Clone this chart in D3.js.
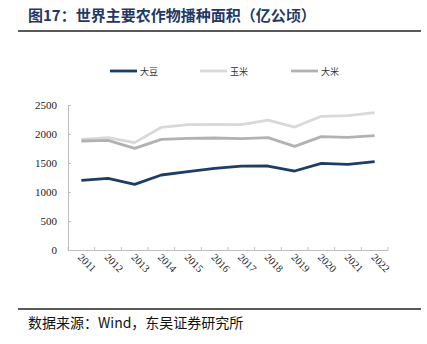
<!DOCTYPE html>
<html><head><meta charset="utf-8">
<script src="https://cdn.jsdelivr.net/npm/d3@7"></script>
<style>body{margin:0;background:#fff}svg{display:block}</style>
</head><body>
<script>
const years = ["2011","2012","2013","2014","2015","2016","2017","2018","2019","2020","2021","2022"];
const soybean = [1200,1236,1132,1293,1350,1408,1445,1448,1362,1494,1477,1523];
const corn    = [1908,1937,1851,2115,2160,2167,2160,2241,2120,2305,2316,2368];
const rice    = [1879,1890,1753,1908,1925,1931,1920,1937,1787,1954,1943,1971];
const yTicks  = [0,500,1000,1500,2000,2500];
const seriesNames = ["大豆","玉米","大米"];
const seriesColors = ["#1d3d66","#d9d9d9","#b2b2b2"];
const title = "图17：世界主要农作物播种面积（亿公顷）";
const source = "数据来源：Wind，东吴证券研究所";

const W=427,H=344;
const svg=d3.select("body").append("svg").attr("width",W).attr("height",H);

svg.append("text").attr("x",28).attr("y",21).attr("fill","#1f3864")
  .attr("font-family","'Noto Sans CJK SC'").attr("font-weight","bold").attr("font-size",15)
  .text(title);
svg.append("line").attr("x1",18).attr("x2",421).attr("y1",31).attr("y2",31).attr("stroke","#222").attr("stroke-width",1.6);

const x=d3.scaleBand().domain(years).range([68,388]);
const y=d3.scaleLinear().domain([0,2500]).range([250,105]);

// y axis
const ya=svg.append("g").attr("transform","translate(68,0)").call(d3.axisRight(y).tickValues(yTicks).tickSize(3).tickFormat(""));
ya.select(".domain").attr("stroke","#bfbfbf");
ya.selectAll(".tick line").attr("stroke","#bfbfbf");
svg.append("g").selectAll("text").data(yTicks).join("text")
  .attr("x",57).attr("y",d=>y(d)+4).attr("text-anchor","end")
  .attr("font-family","'Liberation Serif'").attr("font-size",11).attr("fill","#222").text(d=>d);

// x axis
const xa=svg.append("g").attr("transform","translate(0,250)").call(d3.axisTop(x).tickSize(0).tickFormat(""));
xa.select(".domain").attr("stroke","#bfbfbf");
const bounds=years.map(d=>x(d)).concat([x.range()[1]]);
svg.append("g").selectAll("line").data(bounds).join("line")
  .attr("x1",d=>d).attr("x2",d=>d).attr("y1",247).attr("y2",250).attr("stroke","#bfbfbf");
svg.append("g").selectAll("text").data(years).join("text")
  .attr("transform",d=>`translate(${x(d)+x.bandwidth()/2-4},${258}) rotate(45)`)
  .attr("font-family","'Liberation Serif'").attr("font-size",10.5).attr("fill","#222").text(d=>d);

const line=d3.line().x((d,i)=>x(years[i])+x.bandwidth()/2).y(d=>y(d));
[corn,rice,soybean].forEach((s,k)=>{
  const idx=[1,2,0][k];
  svg.append("path").datum(s).attr("d",line).attr("fill","none")
    .attr("stroke",seriesColors[idx]).attr("stroke-width",2.8).attr("stroke-linejoin","round");
});

// legend
const lx=[110,200,291];
seriesNames.forEach((n,i)=>{
  svg.append("line").attr("x1",lx[i]).attr("x2",lx[i]+27).attr("y1",71).attr("y2",71)
    .attr("stroke",seriesColors[i]).attr("stroke-width",2.8);
  svg.append("text").attr("x",lx[i]+30).attr("y",74.5).attr("font-family","'Noto Sans CJK SC'")
    .attr("font-size",9).attr("fill","#333").text(n);
});

svg.append("line").attr("x1",18).attr("x2",421).attr("y1",309).attr("y2",309).attr("stroke","#222").attr("stroke-width",1.4);
svg.append("text").attr("x",28).attr("y",328).attr("font-family","'Noto Sans CJK SC'")
  .attr("font-size",14).attr("fill","#111").text(source);
</script>
</body></html>
